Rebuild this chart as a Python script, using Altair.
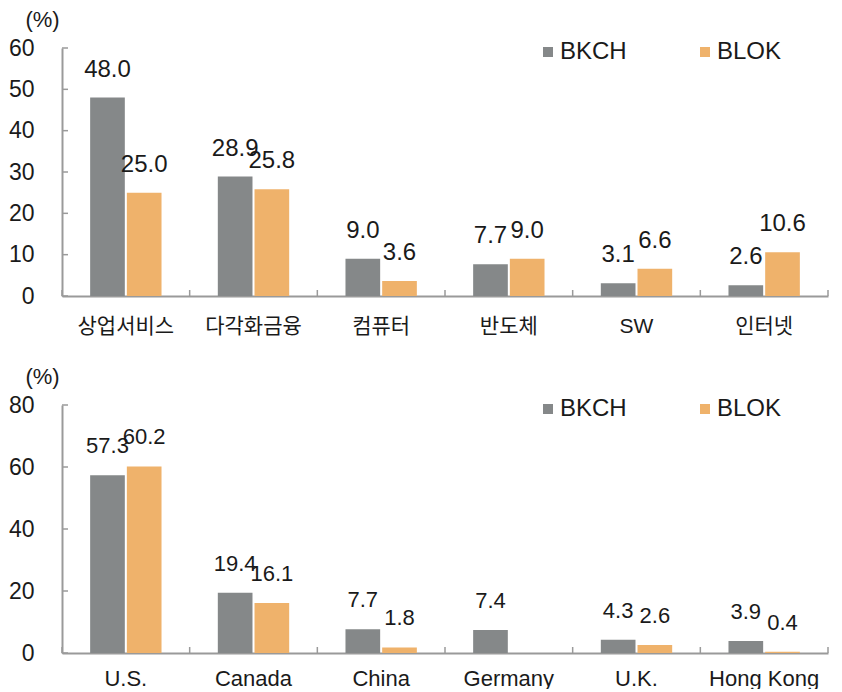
import altair as alt
import pandas as pd

# ---- data ----
series = ["BKCH", "BLOK"]
sectors = ["상업서비스", "다각화금융", "컴퓨터", "반도체", "SW", "인터넷"]
sector_bkch = [48.0, 28.9, 9.0, 7.7, 3.1, 2.6]
sector_blok = [25.0, 25.8, 3.6, 9.0, 6.6, 10.6]
sector_ticks = [0, 10, 20, 30, 40, 50, 60]

countries = ["U.S.", "Canada", "China", "Germany", "U.K.", "Hong Kong"]
country_bkch = [57.3, 19.4, 7.7, 7.4, 4.3, 3.9]
country_blok = [60.2, 16.1, 1.8, None, 2.6, 0.4]
country_ticks = [0, 20, 40, 60, 80]

GRAY = "#858889"
ORANGE = "#EFB26B"
AXIS = "#9a9a9a"
TXT = "#1a1a1a"
FONT = "'Liberation Sans', 'Noto Sans CJK KR', sans-serif"

W = 766
H = 248


def panel(cats, a, b, ymax, ticks, xlab_size, xlab_pad, val_size, val_dy):
    rows = []
    for c, va, vb in zip(cats, a, b):
        for s, v in zip(series, (va, vb)):
            if v is not None:
                rows.append({"cat": c, "series": s, "val": v, "txt": f"{v:.1f}"})
    df = pd.DataFrame(rows)

    xscale = alt.Scale(domain=cats, paddingInner=0, paddingOuter=0)
    x = alt.X(
        "cat:N",
        sort=cats,
        scale=xscale,
        axis=alt.Axis(
            title=None,
            labelAngle=0,
            ticks=False,
            tickSize=0,
            labelPadding=xlab_pad,
            labelFontSize=xlab_size,
            labelFont=FONT,
            labelColor=TXT,
            domainColor=AXIS,
            domainWidth=2,
        ),
    )
    xo = alt.XOffset(
        "series:N",
        sort=series,
        scale=alt.Scale(domain=series, paddingInner=0.055, paddingOuter=0.767),
    )
    y = alt.Y(
        "val:Q",
        scale=alt.Scale(domain=[0, ymax], nice=False, zero=True),
        axis=alt.Axis(
            values=ticks,
            title="(%)",
            titleAngle=0,
            titleX=-20,
            titleY=-22,
            titleAlign="center",
            titleBaseline="alphabetic",
            titleFontSize=22,
            titleFontWeight="normal",
            titleFont=FONT,
            titleColor=TXT,
            ticks=False,
            tickSize=0,
            grid=False,
            labelPadding=28,
            labelFontSize=23,
            labelFont=FONT,
            labelColor=TXT,
            domainColor=AXIS,
            domainWidth=2,
        ),
    )
    color = alt.Color(
        "series:N",
        sort=series,
        scale=alt.Scale(domain=series, range=[GRAY, ORANGE]),
        legend=alt.Legend(
            title=None,
            orient="none",
            direction="horizontal",
            legendX=474,
            legendY=-8,
            symbolType="square",
            symbolSize=100,
            symbolStrokeWidth=0,
            labelFontSize=24,
            labelFont=FONT,
            labelColor=TXT,
            labelOffset=0,
            columnPadding=66,
            padding=0,
        ),
    )

    bars = alt.Chart(df).mark_bar().encode(x=x, xOffset=xo, y=y, color=color)
    labels = (
        alt.Chart(df)
        .mark_text(baseline="alphabetic", dy=val_dy, fontSize=val_size, font=FONT, color=TXT)
        .encode(
            x=alt.X("cat:N", sort=cats),
            xOffset=alt.XOffset("series:N", sort=series),
            y=alt.Y("val:Q"),
            text="txt:N",
        )
    )
    ytick = (
        alt.Chart(pd.DataFrame({"v": ticks}))
        .mark_rule(color=AXIS, strokeWidth=1.5)
        .encode(y=alt.Y("v:Q"), x=alt.value(0), x2=alt.value(6))
    )
    cdf = pd.DataFrame({"cat": cats})
    xtick = (
        alt.Chart(cdf)
        .mark_rule(color=AXIS, strokeWidth=1.5)
        .encode(x=alt.X("cat:N", sort=cats, bandPosition=0), y=alt.value(H - 6), y2=alt.value(H))
    )
    xend = (
        alt.Chart(cdf.tail(1))
        .mark_rule(color=AXIS, strokeWidth=1.5)
        .encode(x=alt.X("cat:N", sort=cats, bandPosition=1), y=alt.value(H - 6), y2=alt.value(H))
    )
    return alt.layer(bars, labels, ytick, xtick, xend).properties(width=W, height=H)


top = panel(sectors, sector_bkch, sector_blok, 60, sector_ticks, 21, 19, 24, -21)
bottom = panel(countries, country_bkch, country_blok, 80, country_ticks, 22, 15, 22, -22)

chart = (
    alt.vconcat(top, bottom, spacing=29)
    .resolve_scale(x="independent", y="independent", color="independent")
    .resolve_legend(color="independent")
    .properties(padding=0)
    .configure_view(stroke=None)
)

chart.save("out.html", embed_options={"renderer": "svg", "actions": False})
